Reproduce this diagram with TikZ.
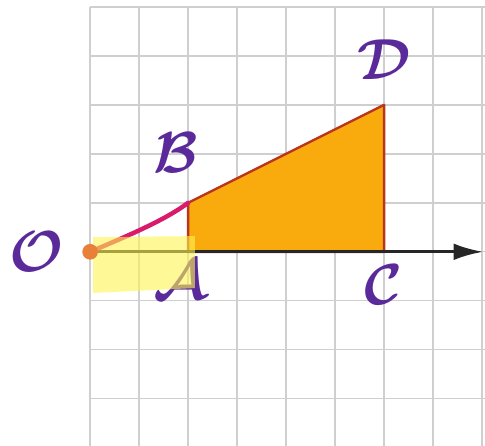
\documentclass[tikz,border=0pt]{standalone}
\usepackage{amsmath,amssymb}
\usepackage{bm}
\usepackage{xcolor}
\usepackage{tikz}
\usetikzlibrary{arrows.meta,positioning}

\definecolor{gridgray}{HTML}{CFCFCF}
\definecolor{areaorange}{HTML}{F9AA0C}
\definecolor{edgebrown}{HTML}{B8361E}
\definecolor{inkpurple}{HTML}{5A2A9A}
\definecolor{inkpink}{HTML}{D81B6A}
\definecolor{marker}{HTML}{FFF450}
\definecolor{dotorange}{HTML}{E8803A}

\begin{document}
\begin{tikzpicture}[
  gridline/.style={draw=gridgray, line width=0.8pt},
  area/.style={fill=areaorange, draw=edgebrown, line width=1.4pt, line join=round},
  axis/.style={-{Latex[length=6mm,width=3.4mm]}, line width=1.7pt, draw=black!85},
  pen/.style={draw=inkpink, line width=2.6pt, line cap=round},
  ink/.style={text=inkpurple, font=\Huge, scale=1.35, transform shape, inner sep=0pt},
  dotmark/.style={circle, fill=dotorange, minimum size=3.2mm, inner sep=0pt},
  highlight/.style={fill=marker, opacity=0.6}
]
\useasboundingbox (-1.84,-3.96) rectangle (8.06,5.14);

% squared paper
\foreach \x in {0,...,8}
  \draw[gridline] (\x,-3.96) -- (\x,5);
\foreach \y in {-3,...,5}
  \draw[gridline] (0,\y) -- (8.06,\y);

\coordinate (O) at (0,0);
\coordinate (A) at (2,0);
\coordinate (B) at (2,1);
\coordinate (C) at (6,0);
\coordinate (D) at (6,3);
\coordinate (tip) at (8.02,0);

\filldraw[area] (A) -- (B) -- (D) -- (C) -- cycle;
\draw[axis] (O) -- (tip);
\draw[pen] (O) .. controls (1,0.42) and (1.6,0.7) .. (B);

\node[ink, left=5.3mm of O] (labelO) {$\bm{\mathcal{O}}$};
\node[ink, below=1.6mm of A, xshift=-1.2mm] (labelA) {$\bm{\mathcal{A}}$};
\node[ink, above=6mm of B, xshift=-1.8mm] (labelB) {$\bm{\mathcal{B}}$};
\node[ink, below=2.6mm of C] (labelC) {$\bm{\mathcal{C}}$};
\node[ink, above=5mm of D] (labelD) {$\bm{\mathcal{D}}$};

% marker stroke
\fill[highlight] (0.06,0.3) -- (2.14,0.32) -- (2.14,-0.74) -- (0.06,-0.84) -- cycle;
\node[dotmark] (dotO) at (O) {};
\end{tikzpicture}
\end{document}
